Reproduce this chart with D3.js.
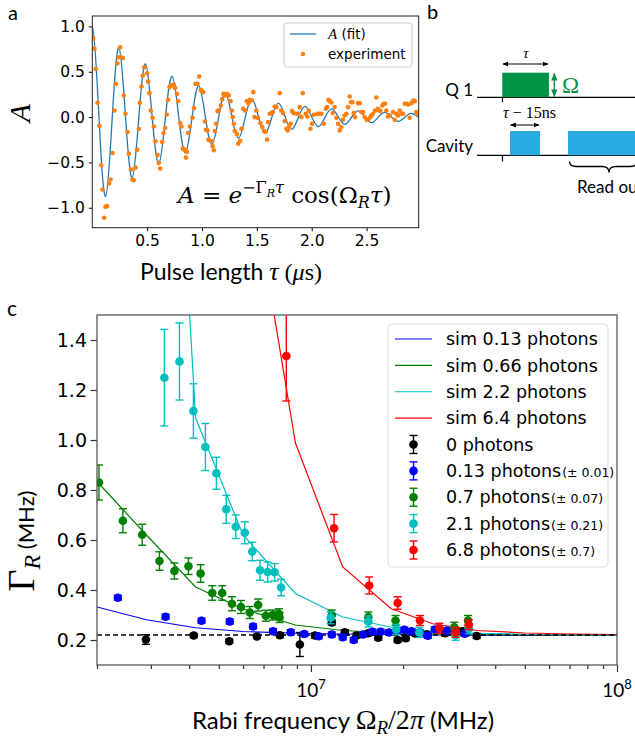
<!DOCTYPE html>
<html><head><meta charset="utf-8">
<script src="https://cdn.jsdelivr.net/npm/d3@7"></script>
<style>body{margin:0;background:#fff}</style>
</head><body>
<svg id="fig" width="635" height="753"></svg>
<script>
// ---------- Panel a data ----------
const fitTau = [-0.0606,0,0.0606,0.1213,0.1819,0.2425,0.3031,0.3638,0.4244,0.485,0.5456,0.6063,0.6669,0.7275,0.7881,0.8488,0.9094,0.97,1.0306,1.0913,1.1519,1.2125,1.2731,1.3338,1.3944,1.455,1.5156,1.5763,1.6369,1.6975,1.7581,1.8188,1.8794,1.94,2.0006,2.0613,2.1219,2.1825,2.2431,2.3038,2.3644,2.425,2.4856,2.5463,2.6069,2.6675,2.7281,2.7888,2.8494,2.91,2.9706,2.975];
const fitA   = [0,1,0,-0.875,0,0.766,0,-0.670,0,0.587,0,-0.513,0,0.449,0,-0.393,0,0.344,0,-0.301,0,0.263,0,-0.231,0,0.202,0,-0.177,0,0.155,0,-0.135,0,0.118,0,-0.104,0,0.091,0,-0.079,0,0.069,0,-0.061,0,0.053,0,-0.047,0,0.041,0,-0.002];
const expTau = [0.008,0.020,0.032,0.047,0.065,0.081,0.093,0.108,0.120,0.135,0.153,0.166,0.184,0.202,0.214,0.229,0.242,0.254,0.263,0.278,0.287,0.302,0.321,0.333,0.351,0.366,0.378,0.394,0.409,0.424,0.433,0.448,0.460,0.473,0.500,0.509,0.521,0.533,0.549,0.561,0.576,0.594,0.606,0.619,0.637,0.649,0.664,0.679,0.691,0.704,0.716,0.728,0.743,0.755,0.771,0.783,0.801,0.813,0.825,0.840,0.853,0.862,0.874,0.889,0.913,0.926,0.941,0.959,0.974,0.989,0.999,1.011,1.026,1.035,1.050,1.059,1.071,1.087,1.096,1.108,1.117,1.129,1.141,1.153,1.172,1.184,1.196,1.211,1.226,1.245,1.260,1.272,1.281,1.290,1.299,1.318,1.330,1.348,1.360,1.375,1.391,1.409,1.424,1.436,1.451,1.467,1.479,1.495,1.510,1.532,1.550,1.565,1.580,1.593,1.602,1.617,1.632,1.647,1.662,1.678,1.708,1.723,1.739,1.754,1.769,1.781,1.793,1.808,1.820,1.836,1.863,1.878,1.890,1.906,1.918,1.945,1.960,1.972,1.988,2.003,2.018,2.051,2.067,2.088,2.109,2.128,2.140,2.152,2.164,2.179,2.191,2.209,2.225,2.240,2.255,2.270,2.285,2.300,2.316,2.331,2.346,2.358,2.370,2.383,2.395,2.422,2.438,2.453,2.468,2.483,2.501,2.514,2.529,2.544,2.559,2.577,2.589,2.604,2.614,2.626,2.644,2.656,2.668,2.680,2.695,2.711,2.741,2.756,2.772,2.787,2.802,2.817,2.832,2.848,2.863,2.878,2.893,2.908,2.924,2.939,2.954,2.969];
const expA = [0.868,0.755,0.531,0.158,-0.095,-0.531,-0.799,-1.110,-0.989,-0.982,-0.733,-0.689,-0.396,0.073,0.366,0.593,0.659,0.769,0.659,0.652,0.238,0.037,-0.165,-0.403,-0.579,-0.689,-0.696,-0.557,-0.359,-0.132,0.158,0.337,0.458,0.549,0.484,0.392,0.264,0.073,-0.007,-0.103,-0.267,-0.418,-0.505,-0.568,-0.275,-0.176,-0.121,0.029,0.190,0.330,0.348,0.352,0.359,0.322,0.256,0.176,-0.066,-0.103,-0.348,-0.359,-0.447,-0.385,-0.176,-0.103,-0.007,0.099,0.366,0.366,0.447,0.300,0.286,0.275,-0.048,-0.139,-0.147,-0.249,-0.256,-0.267,-0.322,-0.366,-0.154,-0.073,0.066,0.073,0.128,0.198,0.256,0.238,0.256,0.238,0.176,0.073,0.000,-0.073,-0.154,-0.190,-0.293,-0.264,-0.128,0.092,0.073,0.176,0.154,0.190,0.183,0.275,0.000,0.073,-0.007,-0.066,-0.110,-0.154,-0.165,-0.249,-0.055,0.037,0.044,0.055,0.117,0.110,0.264,0.073,0.044,-0.044,-0.128,-0.147,-0.110,-0.073,0.066,0.044,0.037,0.037,0.110,0.000,0.264,0.037,0.007,0.073,-0.128,-0.073,0.026,0.037,0.037,0.037,-0.073,0.092,0.110,0.190,0.176,0.161,0.044,0.110,-0.007,-0.073,-0.147,-0.110,-0.029,0.018,0.037,0.110,0.227,0.165,0.165,0.044,0.000,0.154,0.154,0.055,0.055,0.000,-0.029,-0.029,-0.007,0.018,0.037,0.073,0.216,0.092,0.073,0.066,0.128,0.147,0.147,0.073,0.007,0.018,0.055,-0.029,0.037,0.018,0.073,0.037,0.037,0.147,0.147,0.139,-0.007,0.154,0.183,0.176,0.055,0.037];
const aXTicks = [0.5,1.0,1.5,2.0,2.5];
const aYTicks = [-1.0,-0.5,0.0,0.5,1.0];

// ---------- Panel c data ----------
const simX   = [2e6,2.9e6,4.2e6,6e6,8.9e6,1.27e7,1.83e7,2.5e7,3.5e7,5e7,7.1e7,1e8];
const sim013 = [0.332,0.281,0.249,0.234,0.227,0.224,0.222,0.220,0.219,0.218,0.218,0.218];
const sim066 = [0.834,0.62,0.412,0.324,0.26,0.238,0.228,0.224,0.221,0.220,0.219,0.219];
const sim22  = [null,4.47,1.088,0.62,0.386,0.292,0.251,0.235,0.227,0.223,0.221,0.220];
const sim64  = [null,null,null,2.25,0.988,0.492,0.325,0.265,0.238,0.228,0.224,0.222];
const baseline0 = 0.22;

const p0X = [2.89e6,4.14e6,5.41e6,6.66e6,7.92e6,9.2e6,1.03e7,1.17e7,1.29e7,1.41e7,1.54e7,1.66e7,1.92e7,2.04e7,2.2e7,2.39e7,2.74e7,2.95e7,3.14e7,3.48e7];
const p0Y = [0.202,0.218,0.195,0.214,0.219,0.182,0.218,0.270,0.231,0.218,0.227,0.209,0.200,0.207,0.225,0.222,0.227,0.238,0.235,0.216];
const p0E = [0.019,0.008,0.008,0.008,0.01,0.048,0.01,0.01,0.01,0.01,0.01,0.01,0.01,0.01,0.01,0.01,0.01,0.01,0.01,0.01];

const p013X = [2.34e6,3.35e6,4.39e6,5.43e6,6.47e6,7.52e6,8.59e6,9.51e6,1.06e7,1.17e7,1.27e7,1.38e7,1.48e7,1.59e7,1.69e7,1.80e7,1.91e7,2.02e7,2.13e7,2.27e7,2.41e7,2.54e7,2.78e7,3.18e7];
const p013Y = [0.369,0.293,0.277,0.274,0.254,0.235,0.231,0.224,0.215,0.222,0.211,0.200,0.222,0.233,0.233,0.230,0.238,0.241,0.235,0.230,0.217,0.242,0.238,0.225];
const p013E = [0.01,0.01,0.01,0.01,0.01,0.01,0.01,0.01,0.01,0.01,0.01,0.01,0.01,0.01,0.01,0.01,0.01,0.01,0.01,0.01,0.01,0.01,0.01,0.01];

const p07X = [2.03e6,2.43e6,2.81e6,3.20e6,3.58e6,3.98e6,4.36e6,4.76e6,5.13e6,5.52e6,5.91e6,6.31e6,6.72e6,7.12e6,7.50e6,7.86e6,7.90e6,1.17e7,1.54e7,1.89e7,2.94e7,3.26e7];
const p07Y = [0.83,0.677,0.621,0.516,0.476,0.495,0.466,0.388,0.388,0.345,0.332,0.310,0.340,0.297,0.300,0.305,0.290,0.300,0.292,0.278,0.251,0.278];
const p07E = [0.07,0.048,0.042,0.037,0.032,0.033,0.035,0.029,0.029,0.028,0.026,0.024,0.024,0.022,0.02,0.02,0.02,0.02,0.02,0.02,0.02,0.02];

const p21X = [3.32e6,3.72e6,4.13e6,4.52e6,4.91e6,5.29e6,5.68e6,6.08e6,6.43e6,6.82e6,7.22e6,7.61e6,7.99e6,1.16e7,1.54e7,1.90e7,2.26e7,2.97e7,3.28e7];
const p21Y = [1.249,1.314,1.116,0.972,0.867,0.723,0.653,0.629,0.554,0.479,0.472,0.471,0.410,0.289,0.274,0.242,0.230,0.219,0.245];
const p21E = [0.193,0.154,0.109,0.094,0.064,0.056,0.047,0.044,0.037,0.04,0.04,0.035,0.033,0.024,0.022,0.02,0.02,0.02,0.02];

const p68X = [8.31e6,1.19e7,1.55e7,1.92e7,2.27e7,2.63e7,2.97e7,3.28e7];
const p68Y = [1.336,0.647,0.418,0.348,0.278,0.247,0.231,0.261];
const p68E = [0.18,0.055,0.034,0.025,0.02,0.02,0.02,0.02];

const cYTicks = [0.2,0.4,0.6,0.8,1.0,1.2,1.4];
const cXMajor = [1e7,1e8];
const cXMinor = [2e6,3e6,4e6,5e6,6e6,7e6,8e6,9e6,2e7,3e7,4e7,5e7,6e7,7e7,8e7,9e7];

const simLabels = ["sim 0.13 photons","sim 0.66 photons","sim 2.2 photons","sim 6.4 photons"];
const expLabels = ["0 photons","0.13 photons","0.7 photons","2.1 photons","6.8 photons"];
const expUnc = ["","(± 0.01)","(± 0.07)","(± 0.21)","(± 0.7)"];

// ---------- drawing ----------
const svg = d3.select("#fig");
svg.append("rect").attr("width",635).attr("height",753).attr("fill","#fff");
const SANS = "DejaVu Sans";
const SERIF = "Liberation Serif";
const MATH = "DejaVu Serif";
const LAB = "Lato";

// ===== Panel a =====
const ax = d3.scaleLinear().domain([0,2.975]).range([92.3,418.7]);
const ay = d3.scaleLinear().domain([-1.22,1.115]).range([227.7,16]);
const ga = svg.append("g");
ga.append("clipPath").attr("id","clipA").append("rect")
  .attr("x",ax.range()[0]).attr("y",ay.range()[1])
  .attr("width",ax.range()[1]-ax.range()[0]).attr("height",ay.range()[0]-ay.range()[1]);

const fitData = fitTau.map((t,i)=>[t,fitA[i]]);
ga.append("path").datum(fitData).attr("clip-path","url(#clipA)")
  .attr("fill","none").attr("stroke","#1f77b4").attr("stroke-width",1.3)
  .attr("d", d3.line().x(d=>ax(d[0])).y(d=>ay(d[1])).curve(d3.curveNatural));
ga.append("g").attr("clip-path","url(#clipA)").selectAll("circle")
  .data(expTau.map((t,i)=>[t,expA[i]])).join("circle")
  .attr("cx",d=>ax(d[0])).attr("cy",d=>ay(d[1])).attr("r",2.3).attr("fill","#ff7f0e");

const axA = ga.append("g").attr("transform",`translate(0,${ay.range()[0]})`)
  .call(d3.axisBottom(ax).tickValues(aXTicks).tickFormat(d3.format(".1f")).tickSize(3.5).tickPadding(4));
const ayA = ga.append("g").attr("transform",`translate(${ax.range()[0]},0)`)
  .call(d3.axisLeft(ay).tickValues(aYTicks).tickFormat(d3.format(".1f")).tickSize(3.5).tickPadding(4));
[axA,ayA].forEach(g=>{g.select(".domain").remove();
  g.selectAll("text").attr("font-family",SANS).attr("font-size",15.5).attr("fill","#000");
  g.selectAll("line").attr("stroke","#000");});
ga.append("rect").attr("x",ax.range()[0]).attr("y",ay.range()[1])
  .attr("width",ax.range()[1]-ax.range()[0]).attr("height",ay.range()[0]-ay.range()[1])
  .attr("fill","none").attr("stroke","#222").attr("stroke-width",1);

// y label A
ga.append("text").attr("transform","translate(30,113) rotate(-90)").attr("text-anchor","middle")
  .attr("font-family",SERIF).attr("font-style","italic").attr("font-size",30).text("A");
// x label
const xla = ga.append("text").attr("x",140).attr("y",280).attr("text-anchor","start")
  .attr("font-family",LAB).attr("font-size",23);
xla.append("tspan").text("Pulse length   ");
xla.append("tspan").attr("font-family",SERIF).attr("font-style","italic").attr("font-size",26).text("τ");
xla.append("tspan").attr("font-family",SERIF).attr("font-size",24).text(" (");
xla.append("tspan").attr("font-family",SERIF).attr("font-style","italic").attr("font-size",24).text("μ");
xla.append("tspan").attr("font-family",SERIF).attr("font-size",24).text("s)");

// formula
const fm = ga.append("text").attr("x",178).attr("y",203).attr("font-family",MATH).attr("font-size",23);
fm.append("tspan").attr("font-style","italic").text("A");
fm.append("tspan").text(" = ");
fm.append("tspan").attr("font-style","italic").text("e");
fm.append("tspan").attr("font-size",16).attr("dy",-10).text("−Γ");
fm.append("tspan").attr("font-size",11).attr("font-style","italic").attr("dy",4).text("R");
fm.append("tspan").attr("font-size",16).attr("font-style","italic").attr("dy",-4).text("τ");
fm.append("tspan").attr("dy",10).text(" cos(Ω");
fm.append("tspan").attr("font-size",16).attr("font-style","italic").attr("dy",5).text("R");
fm.append("tspan").attr("font-style","italic").attr("dy",-5).text("τ");
fm.append("tspan").text(")");

// legend a
const la = ga.append("g");
la.append("rect").attr("x",284).attr("y",23).attr("width",128).attr("height",44).attr("rx",3)
  .attr("fill","#fff").attr("fill-opacity",0.8).attr("stroke","#ccc");
la.append("line").attr("x1",290).attr("x2",316).attr("y1",34).attr("y2",34).attr("stroke","#1f77b4").attr("stroke-width",1.3);
const lt1 = la.append("text").attr("x",328).attr("y",39).attr("font-family",SANS).attr("font-size",13.5);
lt1.append("tspan").attr("font-family",SERIF).attr("font-style","italic").attr("font-size",15).text("A");
lt1.append("tspan").text(" (fit)");
la.append("circle").attr("cx",303).attr("cy",54).attr("r",2.3).attr("fill","#ff7f0e");
la.append("text").attr("x",328).attr("y",59).attr("font-family",SANS).attr("font-size",13.5).text("experiment");

// panel labels
svg.append("text").attr("x",8).attr("y",20).attr("font-family",LAB).attr("font-size",20).text("a");
svg.append("text").attr("x",427).attr("y",19).attr("font-family",LAB).attr("font-size",20).text("b");
svg.append("text").attr("x",7).attr("y",316).attr("font-family",LAB).attr("font-size",21).text("c");

// ===== Panel b =====
const gb = svg.append("g");
const defs = svg.append("defs");
function mk(id,color){
  defs.append("marker").attr("id",id).attr("viewBox","0 0 10 10").attr("refX",9).attr("refY",5)
    .attr("markerWidth",6).attr("markerHeight",6).attr("orient","auto-start-reverse")
    .append("path").attr("d","M0,1 L10,5 L0,9 z").attr("fill",color);
}
mk("arK","#000"); mk("arG","#009245");
gb.append("text").attr("x",473).attr("y",96).attr("text-anchor","end").attr("font-family",LAB).attr("font-size",17).text("Q 1");
gb.append("line").attr("x1",477).attr("x2",635).attr("y1",97.3).attr("y2",97.3).attr("stroke","#000").attr("stroke-width",1.2);
gb.append("line").attr("x1",502.5).attr("x2",502.5).attr("y1",97).attr("y2",102).attr("stroke","#000").attr("stroke-width",1.2);
gb.append("rect").attr("x",502.3).attr("y",72.7).attr("width",46.7).attr("height",24.6).attr("fill","#009245");
gb.append("line").attr("x1",554.3).attr("x2",554.3).attr("y1",73.5).attr("y2",96.5).attr("stroke","#009245").attr("stroke-width",1.3)
  .attr("marker-start","url(#arG)").attr("marker-end","url(#arG)");
gb.append("text").attr("x",562).attr("y",93).attr("font-family",SERIF).attr("font-size",23).attr("fill","#009245").text("Ω");
gb.append("line").attr("x1",503).attr("x2",548).attr("y1",64).attr("y2",64).attr("stroke","#000").attr("stroke-width",1)
  .attr("marker-start","url(#arK)").attr("marker-end","url(#arK)");
gb.append("text").attr("x",526).attr("y",58).attr("text-anchor","middle").attr("font-family",SERIF).attr("font-style","italic").attr("font-size",15).text("τ");

gb.append("text").attr("x",473).attr("y",152).attr("text-anchor","end").attr("font-family",LAB).attr("font-size",17).text("Cavity");
gb.append("line").attr("x1",477).attr("x2",635).attr("y1",155.3).attr("y2",155.3).attr("stroke","#000").attr("stroke-width",1.2);
gb.append("line").attr("x1",502.5).attr("x2",502.5).attr("y1",155).attr("y2",161.5).attr("stroke","#000").attr("stroke-width",1.2);
gb.append("rect").attr("x",510).attr("y",131).attr("width",30).attr("height",24.3).attr("fill","#29abe2");
gb.append("rect").attr("x",568).attr("y",131).attr("width",70).attr("height",24.3).attr("fill","#29abe2");
gb.append("line").attr("x1",510.5).attr("x2",539).attr("y1",125).attr("y2",125).attr("stroke","#000").attr("stroke-width",1)
  .attr("marker-start","url(#arK)").attr("marker-end","url(#arK)");
const tl = gb.append("text").attr("x",529.5).attr("y",118).attr("text-anchor","middle").attr("font-family",SERIF).attr("font-size",16);
tl.append("tspan").attr("font-style","italic").text("τ");
tl.append("tspan").text(" − 15ns");
gb.append("path").attr("d","M569.5,161.5 q0,5 7,5 L602,166.5 q7,0 7,6 q0,-6 7,-6 L630,166.5 q7,0 7,-5")
  .attr("fill","none").attr("stroke","#000").attr("stroke-width",1.3);
gb.append("text").attr("x",577).attr("y",193).attr("font-family",LAB).attr("font-size",17).text("Read out");

// ===== Panel c =====
const cx = d3.scaleLog().domain([2e6,1e8]).range([97,617]);
const cy = d3.scaleLinear().domain([0.1,1.5]).range([665,315]);
const gc = svg.append("g");
gc.append("clipPath").attr("id","clipC").append("rect")
  .attr("x",97).attr("y",315).attr("width",520).attr("height",350);
const plot = gc.append("g").attr("clip-path","url(#clipC)");
const simCols = ["#0000ff","#008000","#00bfbf","#ff0000"];
[sim013,sim066,sim22,sim64].forEach((s,k)=>{
  plot.append("path").datum(simX.map((xv,i)=>[xv,s[i]]))
    .attr("fill","none").attr("stroke",simCols[k]).attr("stroke-width",1.2)
    .attr("d",d3.line().defined(d=>d[1]!=null).x(d=>cx(d[0])).y(d=>cy(d[1])));
});
plot.append("line").attr("x1",cx(2e6)).attr("x2",cx(1e8)).attr("y1",cy(baseline0)).attr("y2",cy(baseline0))
  .attr("stroke","#000").attr("stroke-width",1.3).attr("stroke-dasharray","5,3");

const expSets = [[p0X,p0Y,p0E,"#000000"],[p013X,p013Y,p013E,"#0000ff"],[p07X,p07Y,p07E,"#008000"],[p21X,p21Y,p21E,"#00bfbf"],[p68X,p68Y,p68E,"#ff0000"]];
function errbars(g, rows, color){
  const s = g.append("g");
  const eg = s.selectAll("g").data(rows).join("g");
  eg.append("line").attr("x1",d=>d.px).attr("x2",d=>d.px).attr("y1",d=>d.y1).attr("y2",d=>d.y2).attr("stroke",color).attr("stroke-width",1.4);
  eg.append("line").attr("x1",d=>d.px-4).attr("x2",d=>d.px+4).attr("y1",d=>d.y1).attr("y2",d=>d.y1).attr("stroke",color).attr("stroke-width",1.4);
  eg.append("line").attr("x1",d=>d.px-4).attr("x2",d=>d.px+4).attr("y1",d=>d.y2).attr("y2",d=>d.y2).attr("stroke",color).attr("stroke-width",1.4);
  eg.append("circle").attr("cx",d=>d.px).attr("cy",d=>d.py).attr("r",4.3).attr("fill",color);
}
expSets.forEach(([xs,ys,es,col])=>{
  const rows = xs.map((xv,i)=>({px:cx(xv),py:cy(ys[i]),y1:cy(ys[i]+es[i]),y2:cy(ys[i]-es[i])}));
  errbars(plot, rows, col);
});

// axes c
const cxA = gc.append("g").attr("transform","translate(0,665)")
  .call(d3.axisBottom(cx).tickValues(cXMajor).tickFormat("").tickSize(7));
const cxm = gc.append("g").attr("transform","translate(0,665)")
  .call(d3.axisBottom(cx).tickValues(cXMinor).tickFormat("").tickSize(4));
const cyA = gc.append("g").attr("transform","translate(97,0)")
  .call(d3.axisLeft(cy).tickValues(cYTicks).tickFormat(d3.format(".1f")).tickSize(6.5).tickPadding(3.5));
[cxA,cxm,cyA].forEach(g=>{g.select(".domain").remove();
  g.selectAll("line").attr("stroke","#333").attr("stroke-width",1.2);
  g.selectAll("text").attr("font-family",SANS).attr("font-size",19).attr("fill","#000");});
cXMajor.forEach(v=>{
  const t = gc.append("text").attr("x",cx(v)).attr("y",697).attr("text-anchor","middle")
    .attr("font-family",LAB).attr("font-size",19);
  t.append("tspan").text("10");
  t.append("tspan").attr("font-size",13).attr("dy",-8).text(Math.round(Math.log10(v)));
});
gc.append("rect").attr("x",97).attr("y",315).attr("width",520).attr("height",350)
  .attr("fill","none").attr("stroke","#555").attr("stroke-width",1.3);

// labels c
const yl = gc.append("text").attr("transform","translate(34,541) rotate(-90)").attr("text-anchor","middle")
  .attr("font-family",SERIF);
yl.append("tspan").attr("font-size",38).text("Γ");
yl.append("tspan").attr("font-size",24).attr("font-style","italic").attr("dy",6).text("R");
yl.append("tspan").attr("font-family",LAB).attr("font-size",22).attr("dy",-6).text(" (MHz)");
const xl = gc.append("text").attr("x",343).attr("y",729).attr("text-anchor","middle").attr("font-family",LAB).attr("font-size",24);
xl.append("tspan").text("Rabi frequency ");
xl.append("tspan").attr("font-family",SERIF).attr("font-size",28).text("Ω");
xl.append("tspan").attr("font-family",SERIF).attr("font-style","italic").attr("font-size",19).attr("dy",5).text("R");
xl.append("tspan").attr("font-family",SERIF).attr("font-size",28).attr("dy",-5).text("/2");
xl.append("tspan").attr("font-family",SERIF).attr("font-style","italic").attr("font-size",28).text("π");
xl.append("tspan").text(" (MHz)");

// legend c
const lc = gc.append("g");
lc.append("rect").attr("x",388).attr("y",324).attr("width",220).attr("height",243).attr("rx",4)
  .attr("fill","#fff").attr("fill-opacity",0.8).attr("stroke","#ddd");
const rowY = d3.scaleLinear().domain([0,8]).range([339,550]);
simLabels.forEach((s,k)=>{
  lc.append("line").attr("x1",395).attr("x2",432).attr("y1",rowY(k)).attr("y2",rowY(k)).attr("stroke",simCols[k]).attr("stroke-width",1.2);
  lc.append("text").attr("x",446).attr("y",rowY(k)).attr("dy","0.35em").attr("font-family",SANS).attr("font-size",17.5).text(s);
});
expLabels.forEach((s,k)=>{
  const yy = rowY(k+4), col = expSets[k][3];
  errbars(lc,[{px:413.5,py:yy,y1:yy-9,y2:yy+9}],col);
  const t = lc.append("text").attr("x",446).attr("y",yy).attr("dy","0.35em").attr("font-family",SANS).attr("font-size",17.5);
  t.append("tspan").text(s);
  if(expUnc[k]) t.append("tspan").attr("font-size",12.5).attr("dx",1).text(expUnc[k]);
});
</script>
</body></html>
